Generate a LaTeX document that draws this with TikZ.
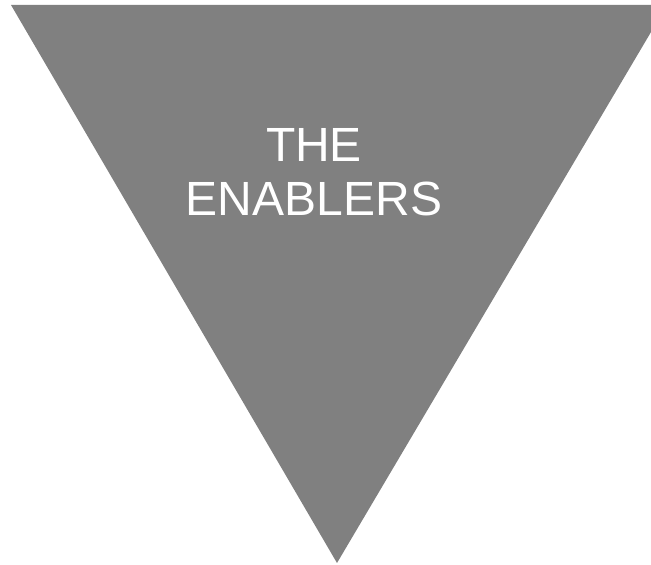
\documentclass[tikz,border=0pt]{standalone}
\usepackage{fontspec}
\setmainfont{Liberation Sans}
\usepackage{tikz}
\usetikzlibrary{positioning}
\usepackage{xcolor}
\definecolor{enablergray}{HTML}{808080}

\begin{document}
\begin{tikzpicture}[
  x=1pt, y=1pt,
  wedge/.style={fill=enablergray, draw=none},
  label/.style={align=center, text=white, inner sep=0pt, font=\fontsize{48}{54}\selectfont}
]
\useasboundingbox (0,0) rectangle (651,565);
\clip (0,0) rectangle (651,565);

% inverted triangle
\fill[wedge] (11,560) -- (667,560) -- (337,2) -- cycle;

\node[label] (title) at (314,393) {THE\\ENABLERS};

\end{tikzpicture}
\end{document}
